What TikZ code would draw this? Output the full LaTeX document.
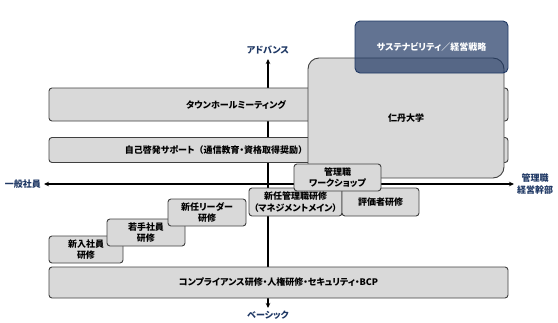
\documentclass[tikz,border=0pt]{standalone}
\usepackage{fontspec}
\setmainfont{Noto Sans CJK JP}[RawFeature=+palt]
\newfontfamily\plainjp{Noto Sans CJK JP}
\usetikzlibrary{arrows.meta}
\definecolor{boxfill}{RGB}{217,217,217}
\definecolor{boxline}{RGB}{64,64,64}
\definecolor{navy}{RGB}{31,56,100}

\begin{document}
\begin{tikzpicture}[x=1pt,y=-1pt,line join=round,
  every node/.style={font=\fontsize{9}{11.5}\selectfont\bfseries,align=center,inner sep=0pt},
  box/.style={draw=boxline,fill=boxfill,line width=0.9pt,rounded corners=3pt},
  axis/.style={line width=1.2pt,{Stealth[length=5pt,width=4.5pt]}-{Stealth[length=5pt,width=4.5pt]}},
  axislabel/.style={text=navy}]
  \useasboundingbox (0,0) rectangle (558,322);
  % axes
  \coordinate (axT) at (268,59); \coordinate (axB) at (268,308);
  \coordinate (axL) at (44,184); \coordinate (axR) at (514,184);
  \draw[axis] (axB) -- (axT);
  \draw[axis] (axL) -- (axR);
  \node[axislabel] (advance) at (268,50) {アドバンス};
  \node[axislabel] (basic) at (268,315) {ベーシック};
  \node[axislabel] (staff) at (23,184) {一般社員};
  \node[axislabel] (exec) at (535,184) {管理職\\経営幹部};
  % wide boxes
  \node[box,minimum width=459,minimum height=33] (town) at (278.5,104.5) {};
  \node (townT) at (236,105) {タウンホールミーティング};
  \node[box,minimum width=459,minimum height=25] (self) at (278.5,150) {};
  \node (selfT) at (216,150) {自己啓発サポート{\plainjp\bfseries （}通信教育・資格取得奨励{\plainjp\bfseries ）}};
  \node[box,minimum width=459,minimum height=31] (comp) at (278.5,282.5) {コンプライアンス研修・人権研修・セキュリティ・BCP};
  % steps
  \node[box,minimum width=74,minimum height=27] (newhire) at (86,249.5) {新入社員\\研修};
  \node[box,minimum width=78,minimum height=27] (young) at (146,232.5) {若手社員\\研修};
  \node[box,minimum width=78,minimum height=27] (leader) at (207,212.5) {新任リーダー\\研修};
  \node[box,minimum width=93,minimum height=28] (mgr) at (295.5,202) {新任管理職研修\\（マネジメントメイン）};
  \node[box,minimum width=77,minimum height=28] (eval) at (380.5,202) {評価者研修};
  % upper right
  \node[box,rounded corners=11pt,minimum width=196,minimum height=120] (jintan) at (406,118) {仁丹大学};
  \node[box,minimum width=87,minimum height=27] (ws) at (337.5,177.5) {管理職\\ワークショップ};
  \node[box,draw=navy,fill=navy,fill opacity=0.7,text opacity=1,text=white,rounded corners=5pt,
        minimum width=153,minimum height=52] (sus) at (431.5,47) {サステナビリティ／経営戦略};
\end{tikzpicture}
\end{document}
